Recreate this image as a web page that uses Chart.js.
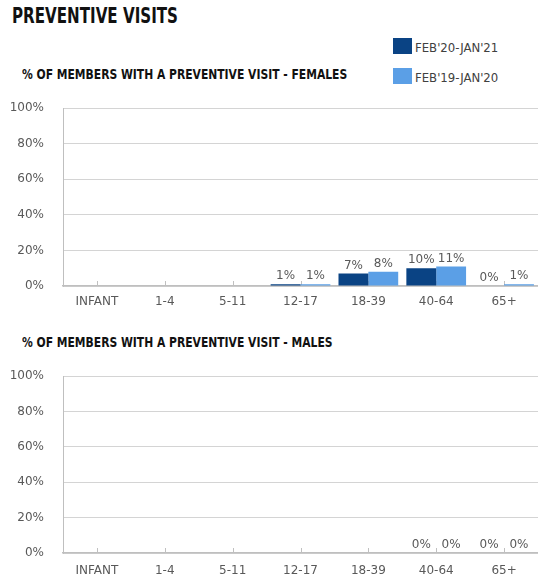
<!DOCTYPE html>
<html><head><meta charset="utf-8">
<script src="https://cdn.jsdelivr.net/npm/chart.js@4"></script>
<style>
html,body{margin:0;padding:0;background:#fff;width:538px;height:576px;overflow:hidden;position:relative;font-family:"DejaVu Sans",sans-serif;}
.title{position:absolute;left:12px;top:4px;font-family:"DejaVu Sans Condensed",sans-serif;font-weight:bold;font-size:21px;color:#111;transform:scaleX(0.8);transform-origin:0 0;white-space:nowrap;}
.sub{position:absolute;left:22px;font-family:"DejaVu Sans Condensed",sans-serif;font-weight:bold;font-size:14px;color:#111;transform:scaleX(0.855);transform-origin:0 0;white-space:nowrap;}
.leg{position:absolute;left:393px;font-size:13px;color:#404040;font-family:"DejaVu Sans Condensed","DejaVu Sans",sans-serif;}
.leg span.sw{position:absolute;left:0;top:0;width:19px;height:16px;}
.leg span.tx{position:absolute;left:22px;top:2px;white-space:nowrap;line-height:16px;}
canvas{position:absolute;left:0;}
.wrap{position:absolute;left:0;width:538px;}
</style></head><body>
<div class="title">PREVENTIVE VISITS</div>
<div class="leg" style="top:38px"><span class="sw" style="background:#0a4384"></span><span class="tx">FEB'20-JAN'21</span></div>
<div class="leg" style="top:68px"><span class="sw" style="background:#5b9fe6"></span><span class="tx">FEB'19-JAN'20</span></div>
<div class="sub" style="top:66px">% OF MEMBERS WITH A PREVENTIVE VISIT - FEMALES</div>
<div class="sub" style="top:334px">% OF MEMBERS WITH A PREVENTIVE VISIT - MALES</div>
<div class="wrap" style="top:82px;height:233px"><canvas id="c1"></canvas></div>
<div class="wrap" style="top:350px;height:236px"><canvas id="c2"></canvas></div>
<script>
const categories = ['INFANT','1-4','5-11','12-17','18-39','40-64','65+'];
const seriesNames = ["FEB'20-JAN'21","FEB'19-JAN'20"];
const femaleCurrent = [null,null,null,1,7,10,0];
const femalePrior   = [null,null,null,1,8,11,1];
const maleCurrent   = [null,null,null,null,null,0,0];
const malePrior     = [null,null,null,null,null,0,0];
const yTicks = [0,20,40,60,80,100];

const DARK='#0a4384', LIGHT='#5b9fe6', TXT='#595959';

const labelPlugin = {
  id:'barLabels',
  beforeDatasetsDraw(chart){
    const ctx=chart.ctx, xs=chart.scales.x, ys=chart.scales.y;
    ctx.save();
    ctx.strokeStyle='#c0c0c0'; ctx.lineWidth=1;
    categories.forEach((c,i)=>{
      const x=Math.round(xs.getPixelForValue(i))+0.5;
      ctx.beginPath(); ctx.moveTo(x,ys.bottom); ctx.lineTo(x,ys.bottom-5); ctx.stroke();
    });
    ctx.restore();
  },
  afterDatasetsDraw(chart){
    const ctx=chart.ctx;
    ctx.save();
    ctx.font='12px "DejaVu Sans"';
    ctx.fillStyle=TXT; ctx.textAlign='center'; ctx.textBaseline='bottom';
    chart.data.datasets.forEach((ds,di)=>{
      const meta=chart.getDatasetMeta(di);
      meta.data.forEach((bar,i)=>{
        const v=ds.data[i];
        if(v===null||v===undefined) return;
        ctx.fillText(Math.round(v)+'%', bar.x, bar.y-2);
      });
    });
    ctx.restore();
  }
};

function makeChart(id, cur, prior, xHeight, xPad){
  return new Chart(document.getElementById(id),{
    type:'bar',
    data:{labels:categories,datasets:[
      {label:seriesNames[0],data:cur,backgroundColor:DARK,categoryPercentage:0.88,barPercentage:1},
      {label:seriesNames[1],data:prior,backgroundColor:LIGHT,categoryPercentage:0.88,barPercentage:1}
    ]},
    options:{
      responsive:true,maintainAspectRatio:false,animation:false,
      layout:{padding:{top:0,right:0,left:0,bottom:0}},
      plugins:{legend:{display:false},tooltip:{enabled:false}},
      scales:{
        x:{
          grid:{display:false,drawTicks:false},
          border:{display:true,color:'#bfbfbf',width:1.5},
          ticks:{color:TXT,font:{family:'DejaVu Sans',size:12},padding:xPad,maxRotation:0,autoSkip:false},
          afterFit(s){s.height=xHeight;}
        },
        y:{
          min:0,max:100,
          afterBuildTicks(s){s.ticks=yTicks.map(v=>({value:v}));},
          grid:{color:'#d4d4d4',drawTicks:false,lineWidth:1},
          border:{display:true,color:'#bfbfbf',width:1},
          ticks:{color:TXT,font:{family:'DejaVu Sans',size:12},padding:19,callback:v=>v+'%'},
          afterFit(s){s.width=63;}
        }
      }
    },
    plugins:[labelPlugin]
  });
}
makeChart('c1',femaleCurrent,femalePrior,29,9);
makeChart('c2',maleCurrent,malePrior,33,11);
</script>
</body></html>
